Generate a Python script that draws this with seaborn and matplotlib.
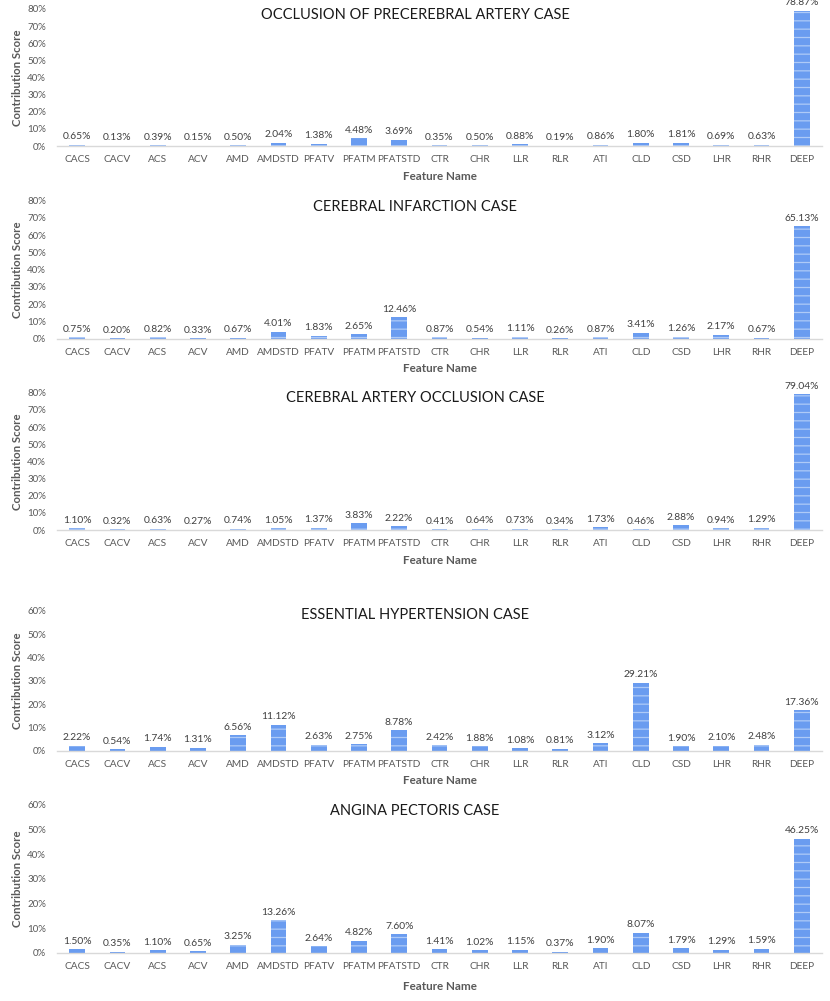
import matplotlib
matplotlib.use("Agg")
import matplotlib.pyplot as plt
import seaborn as sns
import pandas as pd
from matplotlib.ticker import PercentFormatter, MultipleLocator

features = ["CACS", "CACV", "ACS", "ACV", "AMD", "AMDSTD", "PFATV", "PFATM", "PFATSTD",
            "CTR", "CHR", "LLR", "RLR", "ATI", "CLD", "CSD", "LHR", "RHR", "DEEP"]

titles = ["OCCLUSION OF PRECEREBRAL ARTERY CASE",
          "CEREBRAL INFARCTION CASE",
          "CEREBRAL ARTERY OCCLUSION CASE",
          "ESSENTIAL HYPERTENSION CASE",
          "ANGINA PECTORIS CASE"]

occlusion_precerebral = [0.65, 0.13, 0.39, 0.15, 0.50, 2.04, 1.38, 4.48, 3.69, 0.35,
                         0.50, 0.88, 0.19, 0.86, 1.80, 1.81, 0.69, 0.63, 78.87]
cerebral_infarction = [0.75, 0.20, 0.82, 0.33, 0.67, 4.01, 1.83, 2.65, 12.46, 0.87,
                       0.54, 1.11, 0.26, 0.87, 3.41, 1.26, 2.17, 0.67, 65.13]
cerebral_artery_occlusion = [1.10, 0.32, 0.63, 0.27, 0.74, 1.05, 1.37, 3.83, 2.22, 0.41,
                             0.64, 0.73, 0.34, 1.73, 0.46, 2.88, 0.94, 1.29, 79.04]
essential_hypertension = [2.22, 0.54, 1.74, 1.31, 6.56, 11.12, 2.63, 2.75, 8.78, 2.42,
                          1.88, 1.08, 0.81, 3.12, 29.21, 1.90, 2.10, 2.48, 17.36]
angina_pectoris = [1.50, 0.35, 1.10, 0.65, 3.25, 13.26, 2.64, 4.82, 7.60, 1.41,
                   1.02, 1.15, 0.37, 1.90, 8.07, 1.79, 1.29, 1.59, 46.25]

series = [occlusion_precerebral, cerebral_infarction, cerebral_artery_occlusion,
          essential_hypertension, angina_pectoris]
y_max = [80, 80, 80, 60, 60]

sns.set_theme(style="white")
FONT = ["Lato", "DejaVu Sans"]
plt.rcParams["font.family"] = FONT
plt.rcParams["hatch.linewidth"] = 0.9

W, H = 830, 1001
fig = plt.figure(figsize=(W / 100, H / 100), dpi=100)

# pixel layout: (top, bottom) of plot areas, title y, xlabel y
x0, x1 = 57, 822
boxes = [(9, 146), (200.7, 338.7), (392.7, 530), (610.7, 750.7), (805, 952.7)]
title_y = [15, 206.7, 398, 615, 810.7]
xlabel_y = [176, 369, 560, 781, 987]

grey = "#595959"
for i in range(5):
    top, bot = boxes[i]
    ax = fig.add_axes([x0 / W, 1 - bot / H, (x1 - x0) / W, (bot - top) / H])
    df = pd.DataFrame({"Feature": features, "Score": series[i]})
    sns.barplot(data=df, x="Feature", y="Score", ax=ax, color="#6a9cf0",
                width=0.39, saturation=1, linewidth=0, edgecolor="#aecaf7")
    for p in ax.patches:
        p.set_hatch("--")
        p.set_linewidth(0)
    ax.bar_label(ax.containers[0], labels=[f"{v:.2f}%" for v in series[i]],
                 padding=2.5, fontsize=7.4, color="#404040", family=FONT)
    ax.set_ylim(0, y_max[i])
    ax.set_xlim(-0.5, len(features) - 0.5)
    ax.yaxis.set_major_locator(MultipleLocator(10))
    ax.yaxis.set_major_formatter(PercentFormatter(decimals=0))
    ax.tick_params(axis="y", length=0, pad=8, labelsize=7, labelcolor=grey)
    ax.tick_params(axis="x", length=0, pad=6.5, labelsize=7.3, labelcolor=grey)
    for s in ["top", "right", "left"]:
        ax.spines[s].set_visible(False)
    ax.spines["bottom"].set_color("#d9d9d9")
    ax.spines["bottom"].set_linewidth(1)
    ax.set_ylabel("Contribution Score", fontsize=8.2, fontweight="bold", color=grey)
    ax.yaxis.set_label_coords((23 - x0) / (x1 - x0), 0.5)
    ax.set_xlabel("Feature Name", fontsize=8.4, fontweight="bold", color=grey)
    ax.xaxis.set_label_coords(0.5, (bot - xlabel_y[i]) / (bot - top))
    ax.xaxis.label.set_verticalalignment("center")
    fig.text(415 / W, 1 - title_y[i] / H, titles[i], ha="center", va="center",
             fontsize=10.5, color="#1a1a1a", family=FONT)

fig.savefig("out.png", dpi=100)
